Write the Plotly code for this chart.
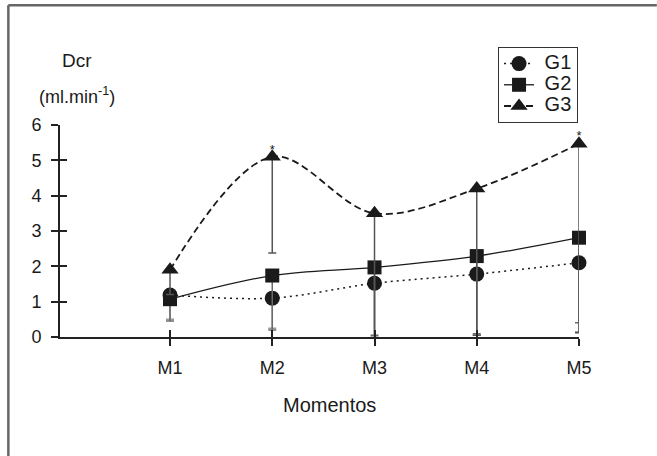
import plotly.graph_objects as go

categories = ["M1", "M2", "M3", "M4", "M5"]
xpos = [0, 1, 2, 3, 4]

g1 = [1.19, 1.10, 1.52, 1.78, 2.10]
g2 = [1.07, 1.74, 1.97, 2.29, 2.81]
g3 = [1.90, 5.10, 3.50, 4.20, 5.47]

g1_err = [0.69, 0.85, 1.52, 1.73, 1.95]
g2_err = [0.62, 1.54, 1.92, 2.20, 2.41]
g3_err = [0.70, 2.72, 3.60, 4.15, 5.35]

g3_marks = ["", "*", "", "", "*"]

FONT = "Liberation Sans, Arial, sans-serif"
INK = "#1a1a1a"

fig = go.Figure()

def add_series(name, y, err, symbol, dash, lw, ecol, msize):
    fig.add_trace(go.Scatter(
        x=xpos, y=y, name='<span style="font-size:20px">&nbsp;%s</span>' % name,
        mode="lines+markers",
        line=dict(color=INK, width=lw, dash=dash, shape="spline", smoothing=1.0),
        marker=dict(symbol=symbol, size=msize, color=INK),
        error_y=dict(type="data", symmetric=False, array=[0] * len(y),
                     arrayminus=err, color=ecol, thickness=1.5, width=4),
        cliponaxis=False,
    ))

add_series("G1", g1, g1_err, "circle", "2px,4px", 1.5, "#9a9a9a", 15)
add_series("G2", g2, g2_err, "square", "solid", 1.3, "#6a6a6a", 14)
add_series("G3", g3, g3_err, "triangle-up", "7px,4px", 1.8, "#555555", 15)

fig.add_trace(go.Scatter(
    x=xpos, y=g3, mode="text", text=g3_marks, textposition="top center",
    textfont=dict(size=13, color=INK, family=FONT), showlegend=False,
    hoverinfo="skip", cliponaxis=False,
))

fig.update_layout(
    width=657, height=456,
    margin=dict(l=60, r=78, t=125, b=119),
    paper_bgcolor="white", plot_bgcolor="white",
    font=dict(family=FONT, size=18, color=INK),
    showlegend=True,
    legend=dict(
        x=0.844, y=1.368, xanchor="left", yanchor="top",
        bordercolor="#333333", borderwidth=1, bgcolor="white",
        font=dict(size=14, family=FONT, color=INK),
        tracegroupgap=0, itemwidth=30,
    ),
    xaxis=dict(
        range=[-1.076, 4.0], tickmode="array", tickvals=xpos, ticktext=categories,
        showgrid=False, zeroline=False, showline=True, linecolor="#222222",
        linewidth=2, ticks="outside", ticklen=7, tickwidth=2, tickcolor="#222222",
        ticklabelstandoff=6, tickfont=dict(size=18),
    ),
    yaxis=dict(
        range=[0, 6], tickvals=[0, 1, 2, 3, 4, 5, 6],
        showgrid=False, zeroline=False, showline=True, linecolor="#222222",
        linewidth=2, ticks="outside", ticklen=7, tickwidth=2, tickcolor="#222222",
        ticklabelstandoff=6, tickfont=dict(size=18),
    ),
    xaxis2=dict(
        overlaying="x", range=[-1.076, 4.0], tickmode="array", tickvals=xpos,
        showticklabels=False, showgrid=False, zeroline=False, ticks="inside",
        ticklen=7, tickwidth=2, tickcolor="#222222", side="bottom", anchor="y",
    ),
    yaxis2=dict(
        overlaying="y", range=[0, 6], tickvals=[0, 1, 2, 3, 4, 5, 6],
        showticklabels=False, showgrid=False, zeroline=False, ticks="inside",
        ticklen=7, tickwidth=2, tickcolor="#222222", side="left", anchor="x",
    ),
)

fig.add_trace(go.Scatter(x=[None], y=[None], xaxis="x2", yaxis="y2",
                         showlegend=False, hoverinfo="skip"))

fig.add_annotation(text="Dcr", xref="paper", yref="paper", x=0.0328, y=1.302,
                   xanchor="center", yanchor="middle", showarrow=False,
                   font=dict(size=19, family=FONT, color=INK))
fig.add_annotation(text="(ml.min<sup>-1</sup>)", xref="paper", yref="paper",
                   x=0.0328, y=1.1415, xanchor="center", yanchor="middle",
                   showarrow=False, font=dict(size=18, family=FONT, color=INK))
fig.add_annotation(text="Momentos", xref="paper", yref="paper", x=0.52, y=-0.321,
                   xanchor="center", yanchor="middle", showarrow=False,
                   font=dict(size=20, family=FONT, color=INK))

fig.add_shape(type="line", xref="paper", yref="paper", x0=-0.0995, x1=1.15,
              y0=1.565, y1=1.565, line=dict(color="#666666", width=2.5))
fig.add_shape(type="line", xref="paper", yref="paper", x0=-0.0995, x1=-0.0995,
              y0=1.565, y1=-0.57, line=dict(color="#666666", width=2.5))

fig.write_html("out.html", post_script="document.body.style.margin='0';",
               config={"displayModeBar": False})
